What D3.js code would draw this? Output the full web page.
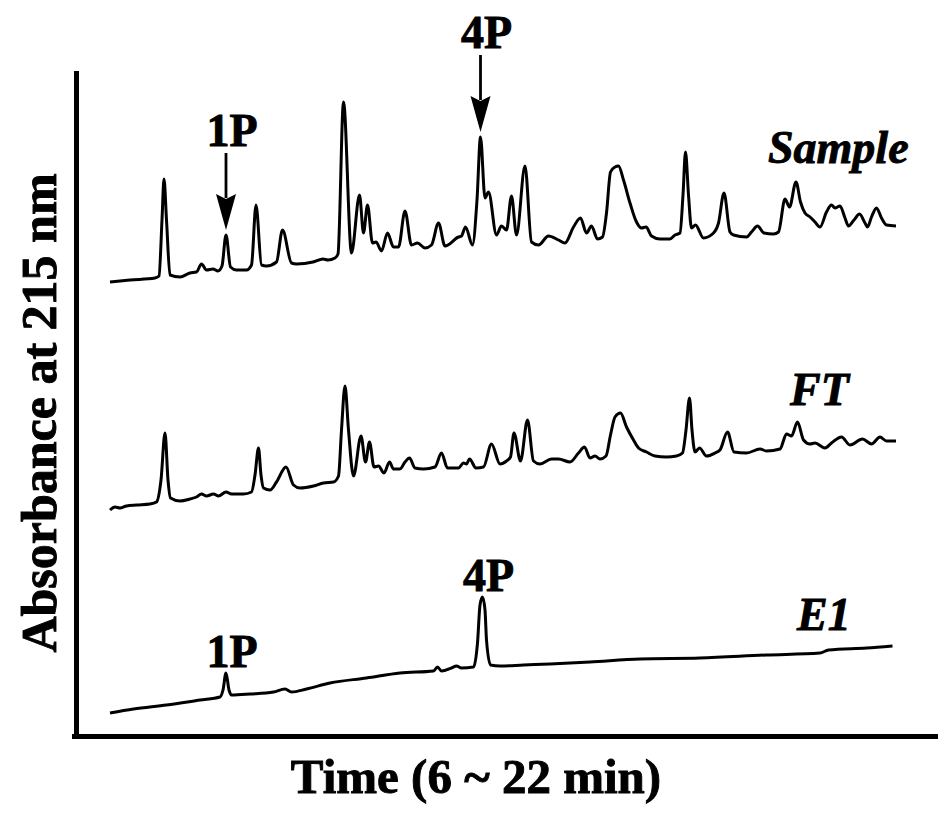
<!DOCTYPE html>
<html>
<head>
<meta charset="utf-8">
<script src="https://cdn.jsdelivr.net/npm/d3@7"></script>
<style>
  html, body { margin: 0; padding: 0; background: #fff; }
  svg { display: block; }
  text { font-family: "Liberation Serif", "Times New Roman", serif; font-weight: bold; fill: #000; stroke: #000; stroke-width: 0.9px; }
</style>
</head>
<body>
<svg id="chart" width="944" height="821"></svg>
<script>
// ---- Data (time in min, absorbance in arbitrary units incl. trace offset) ----
const sampleTime = [6.00,6.40,6.90,6.98,7.04,7.08,7.13,7.20,7.40,7.60,7.73,7.83,7.93,8.06,8.16,8.24,8.32,8.41,8.53,8.73,8.83,8.92,9.03,9.13,9.33,9.45,9.63,9.73,10.06,10.26,10.36,10.50,10.56,10.67,10.83,10.99,11.07,11.15,11.25,11.32,11.43,11.55,11.67,11.77,11.90,12.03,12.15,12.30,12.43,12.57,12.70,12.97,13.03,13.11,13.25,13.34,13.41,13.50,13.57,13.73,13.83,13.93,14.03,14.13,14.30,14.43,14.57,14.77,14.97,15.10,15.27,15.41,15.53,15.63,15.75,15.85,15.93,16.01,16.10,16.17,16.27,16.40,16.53,16.63,16.72,16.83,17.00,17.20,17.30,17.40,17.46,17.51,17.57,17.63,17.71,17.87,18.07,18.17,18.28,18.40,18.47,18.73,18.83,18.95,19.08,19.27,19.37,19.50,19.59,19.72,19.81,19.90,20.00,20.10,20.20,20.33,20.43,20.50,20.60,20.70,20.77,20.88,20.99,21.10,21.15,21.23,21.33,21.43,21.53,21.72];
const sampleAbs = [456,458,460,462,518,559,518,463,461,465,466,474,468,469,467,472,503,471,468,468,473,533,473,472,476,508,475,474,476,479,478,480,484,636,485,543,505,533,495,496,487,505,491,491,527,493,495,490,493,515,492,501,502,511,493,538,601,540,546,503,512,508,542,503,572,496,493,502,498,495,511,520,505,512,499,501,525,566,571,572,558,535,516,510,511,502,499,499,503,505,543,586,543,510,513,500,505,515,545,506,503,501,506,512,505,504,506,539,531,556,536,525,521,516,511,526,533,530,532,520,512,518,524,515,511,521,530,520,513,512];

const ftTime = [6.00,6.10,6.20,6.33,6.53,6.80,6.93,7.02,7.10,7.16,7.21,7.40,7.60,7.73,7.83,7.93,8.07,8.17,8.32,8.43,8.67,8.83,8.90,8.97,9.02,9.07,9.20,9.33,9.52,9.67,9.80,10.07,10.27,10.47,10.57,10.63,10.70,10.77,10.87,11.02,11.11,11.19,11.28,11.37,11.48,11.59,11.67,11.80,11.90,11.99,12.10,12.27,12.50,12.63,12.75,12.97,13.07,13.13,13.19,13.32,13.47,13.63,13.80,13.93,14.01,14.08,14.21,14.35,14.47,14.60,14.83,14.97,15.20,15.37,15.49,15.60,15.70,15.80,15.92,16.01,16.10,16.21,16.33,16.47,16.57,16.73,16.90,17.13,17.33,17.45,17.52,17.59,17.64,17.70,17.79,17.93,18.10,18.20,18.35,18.48,18.73,19.00,19.13,19.40,19.53,19.63,19.75,19.87,20.00,20.10,20.30,20.43,20.63,20.80,21.05,21.23,21.40,21.53,21.72];
const ftAbs = [228,231,230,232,233,234,236,258,305,258,240,237,239,241,244,242,244,242,246,244,244,246,263,290,263,250,248,256,271,253,250,252,255,256,262,308,352,308,262,302,276,296,271,272,265,276,269,269,276,280,270,269,271,285,270,270,275,274,279,270,271,294,274,277,281,305,277,318,277,274,279,279,276,285,291,280,282,279,282,303,321,325,311,298,290,286,282,281,282,285,308,340,308,286,290,282,285,288,306,286,285,289,287,289,304,302,316,298,294,295,290,295,301,293,299,294,301,297,297];

const e1Time = [6.00,6.47,7.13,7.80,8.20,8.26,8.32,8.38,8.43,8.80,9.27,9.50,9.63,9.93,10.40,11.13,11.80,12.47,12.55,12.63,12.83,12.93,13.03,13.27,13.35,13.40,13.45,13.50,13.53,13.61,13.80,14.27,14.80,15.60,16.60,17.80,19.13,20.20,20.37,21.13,21.65];
const e1Abs = [25,29,33,38,41,48,65,48,43,44,46,49,46,49,55,60,65,67,71,67,70,72,70,71,95,133,141,128,98,73,72,73,74,76,79,80,83,85,88,90,92];

const traceNames = ["Sample", "FT", "E1"];
const traceLabelPos = [{t: 19.16, v: 575}, {t: 19.60, v: 333}, {t: 19.74, v: 108}]; // label anchor (time, absorbance)
const peakLabels = ["1P", "4P", "1P", "4P"];
const peakTrace = [0, 0, 2, 2];
const peakTime = [8.32, 13.41, 8.32, 13.45];
const peakArrow = [true, true, false, false];

const xTitle = "Time (6 ~ 22 min)";
const yTitle = "Absorbance at 215 nm";

// ---- Chart ----
const svg = d3.select("#chart");
const x = d3.scaleLinear().domain([6, 22]).range([110, 910]);
const y = d3.scaleLinear().domain([0, 663]).range([738, 75]);

// axis frame
const xFrame = x.copy().domain([x.invert(74), x.invert(935)]).range([74, 935]);
const yFrame = y.copy().domain([y.invert(736), y.invert(73)]).range([736, 73]);

svg.append("g").attr("transform", "translate(0,736)")
  .call(d3.axisBottom(xFrame).tickValues([]).tickSizeOuter(0));
svg.append("g").attr("transform", "translate(76,0)")
  .call(d3.axisLeft(yFrame).tickValues([]).tickSizeOuter(0));
svg.selectAll(".domain").attr("stroke", "#000").attr("stroke-width", 5).attr("stroke-linecap", "square");

// traces
const series = [
  sampleTime.map((t, i) => [t, sampleAbs[i]]),
  ftTime.map((t, i) => [t, ftAbs[i]]),
  e1Time.map((t, i) => [t, e1Abs[i]])
];
const line = d3.line().x(d => x(d[0])).y(d => y(d[1])).curve(d3.curveMonotoneX);
svg.append("g").selectAll("path").data(series).join("path")
  .attr("d", line)
  .attr("fill", "none")
  .attr("stroke", "#000")
  .attr("stroke-width", 3)
  .attr("stroke-linejoin", "round");

// trace labels
svg.append("g").selectAll("text").data(traceNames).join("text")
  .attr("x", (d, i) => x(traceLabelPos[i].t))
  .attr("y", (d, i) => y(traceLabelPos[i].v))
  .attr("font-style", "italic")
  .attr("font-size", 46)
  .text(d => d);

// peak annotations
function peakValue(ti, t) {
  const s = series[ti];
  let best = s[0];
  for (const p of s) if (Math.abs(p[0] - t) < Math.abs(best[0] - t)) best = p;
  return best[1];
}
peakLabels.forEach((lab, i) => {
  const px = x(peakTime[i]);
  const py = y(peakValue(peakTrace[i], peakTime[i]));
  const g = svg.append("g");
  if (peakArrow[i]) {
    const tip = py - 5;
    const headLen = 36, headW = 10, shaft = 77;
    g.append("line").attr("x1", px).attr("x2", px)
      .attr("y1", tip - shaft).attr("y2", tip - headLen + 4)
      .attr("stroke", "#000").attr("stroke-width", 2.8);
    g.append("path")
      .attr("d", `M${px - headW},${tip - headLen} L${px},${tip - headLen + 5} L${px + headW},${tip - headLen} L${px},${tip} Z`)
      .attr("fill", "#000");
    g.append("text").attr("x", px + 6).attr("y", tip - shaft - 7)
      .attr("text-anchor", "middle").attr("font-size", 46).text(lab);
  } else {
    g.append("text").attr("x", px + 6).attr("y", py - 6)
      .attr("text-anchor", "middle").attr("font-size", 46).text(lab);
  }
});

// axis titles
svg.append("text").attr("x", 476).attr("y", 793)
  .attr("text-anchor", "middle").attr("font-size", 49).text(xTitle);
svg.append("text")
  .attr("transform", "translate(56,413) rotate(-90)")
  .attr("text-anchor", "middle").attr("font-size", 50).text(yTitle);
</script>
</body>
</html>
